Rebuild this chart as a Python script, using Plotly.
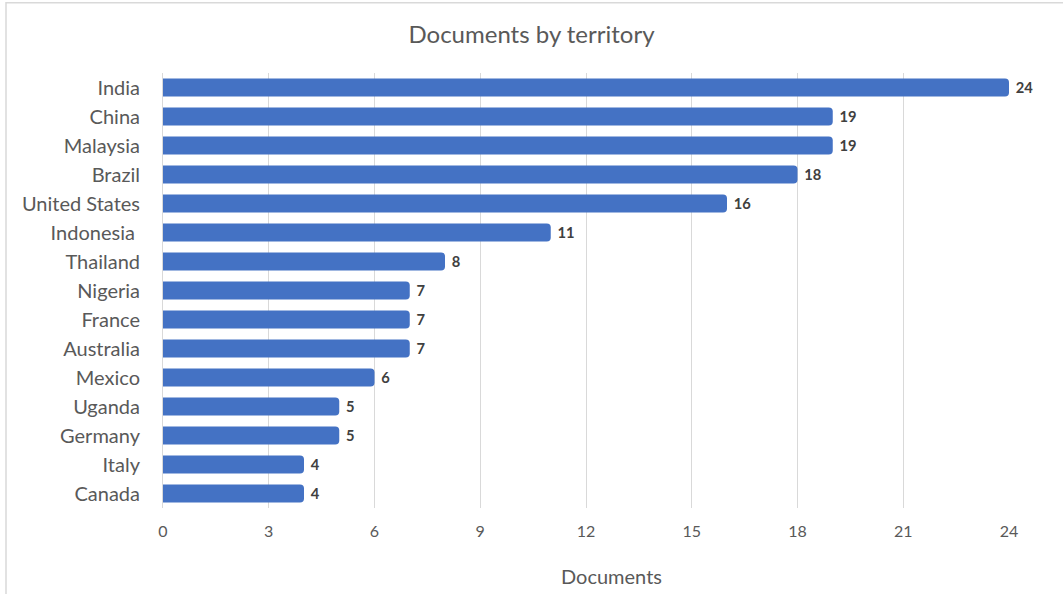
import plotly.graph_objects as go

countries = ["India", "China", "Malaysia", "Brazil", "United States", "Indonesia ",
             "Thailand", "Nigeria", "France", "Australia", "Mexico", "Uganda",
             "Germany", "Italy", "Canada"]
documents = [24, 19, 19, 18, 16, 11, 8, 7, 7, 7, 6, 5, 5, 4, 4]
x_ticks = [0, 3, 6, 9, 12, 15, 18, 21, 24]

FONT = "Lato"

fig = go.Figure(go.Bar(
    y=countries,
    x=documents,
    orientation="h",
    marker=dict(color="#4472C4", line=dict(width=0)),
    text=[f"&nbsp;<b>{v}</b>" for v in documents],
    textposition="outside",
    textfont=dict(family=FONT, size=18, color="#404040"),
    cliponaxis=False,
    hoverinfo="x+y",
))

# plot area geometry (pixels) used for border shape placement
L, R, T, B = 163, 1009, 72.5, 508.5
W, H = R - L, B - T

fig.update_layout(
    width=1063, height=594,
    margin=dict(l=L, r=1063 - R, t=T, b=594 - B),
    paper_bgcolor="white", plot_bgcolor="white",
    bargap=0.38,
    barcornerradius=4,
    showlegend=False,
    title=dict(text="Documents by territory", x=0.5, xanchor="center",
               y=1 - 35 / 594, yanchor="middle",
               font=dict(family=FONT, size=24, color="#595959")),
    xaxis=dict(
        range=[0, 24], tickvals=x_ticks, ticktext=[str(t) for t in x_ticks],
        showgrid=True, gridcolor="#d9d9d9", gridwidth=1,
        zeroline=False, showline=False, ticks="",
        tickfont=dict(family=FONT, size=16, color="#595959"),
        ticklabelstandoff=12,
        fixedrange=True,
    ),
    yaxis=dict(
        categoryorder="array", categoryarray=countries, autorange="reversed",
        showgrid=False, zeroline=False,
        showline=True, linecolor="#d9d9d9", linewidth=1,
        ticks="", ticklabelstandoff=18,
        tickfont=dict(family=FONT, size=20, color="#595959"),
        fixedrange=True,
    ),
    annotations=[dict(
        text="Documents", xref="paper", yref="paper",
        x=(611 - L) / W, y=(B - 577) / H, xanchor="center", yanchor="middle",
        showarrow=False, font=dict(family=FONT, size=20, color="#595959"),
    )],
    shapes=[dict(
        type="rect", xref="paper", yref="paper",
        x0=(6 - L) / W, x1=(1070 - L) / W,
        y0=(B - 600) / H, y1=(B - 2) / H,
        line=dict(color="#d9d9d9", width=1.5), fillcolor="rgba(0,0,0,0)",
        layer="below",
    )],
)

fig.write_html(
    "out.html",
    config={"displayModeBar": False},
    post_script="document.body.style.margin='0';document.body.style.overflow='hidden';",
)
